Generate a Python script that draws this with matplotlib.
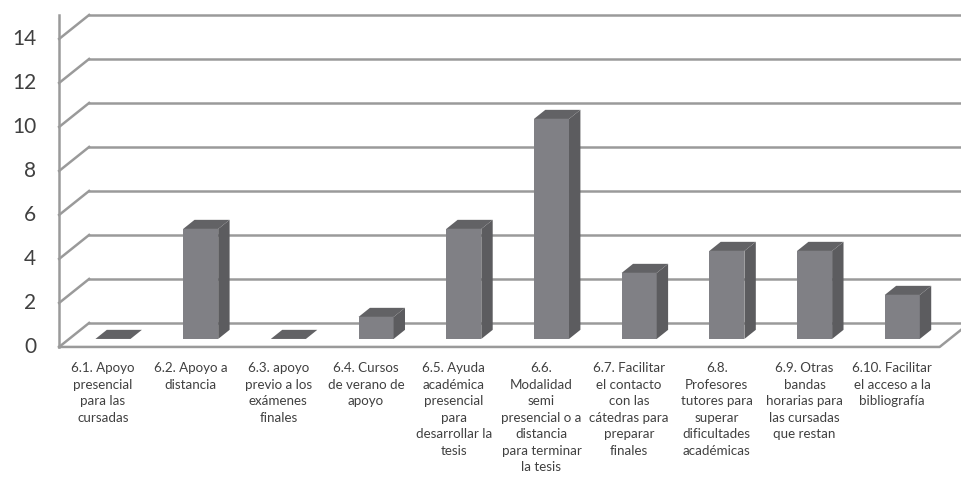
import numpy as np
import matplotlib.pyplot as plt
from matplotlib.patches import Polygon

categorias = [
    "6.1. Apoyo\npresencial\npara las\ncursadas",
    "6.2. Apoyo a\ndistancia",
    "6.3. apoyo\nprevio a los\nexámenes\nfinales",
    "6.4. Cursos\nde verano de\napoyo",
    "6.5. Ayuda\nacadémica\npresencial\npara\ndesarrollar la\ntesis",
    "6.6.\nModalidad\nsemi\npresencial o a\ndistancia\npara terminar\nla tesis",
    "6.7. Facilitar\nel contacto\ncon las\ncátedras para\npreparar\nfinales",
    "6.8.\nProfesores\ntutores para\nsuperar\ndificultades\nacadémicas",
    "6.9. Otras\nbandas\nhorarias para\nlas cursadas\nque restan",
    "6.10. Facilitar\nel acceso a la\nbibliografía",
]
valores = [0, 5, 0, 1, 5, 10, 3, 4, 4, 2]
yticks = [0, 2, 4, 6, 8, 10, 12, 14]

grid_col = '#9a9a9a'
front_col = '#808085'
side_col = '#5c5c5f'
top_col = '#626265'
text_col = '#404040'

# depth of the 3d box (in category / value units)
DX, DY = 0.342, 1.09
# bars: front plane at 1/3 of depth, bar depth ~0.38 of the box
bf = 1/3
bd = 0.38
bw = 0.4

fig = plt.figure(figsize=(9.62, 4.84), dpi=100)
ax = fig.add_axes([0, 0, 1, 1])
ax.set_xlim(-1.174, 9.795)
ax.set_ylim(-6.23, 15.77)
ax.axis('off')

n = len(valores)
x_left = -0.5
x_right = n - 0.46

# walls / gridlines
ax.plot([x_left, x_left], [0, 15.1], color=grid_col, lw=1.8, zorder=1)
for v in yticks:
    ax.plot([x_left, x_left + DX], [v, v + DY], color=grid_col, lw=1.8, zorder=1)
    ax.plot([x_left + DX, 11], [v + DY, v + DY], color=grid_col, lw=1.8, zorder=1)
    ax.text(-0.76, v, str(v), ha='right', va='center', fontsize=15,
            color=text_col, family='Lato')
# floor front edge
ax.plot([x_left, x_right, x_right + DX], [0, 0, DY], color=grid_col, lw=1.8, zorder=1)

# bars
for i, v in enumerate(valores):
    x0 = i + bf * DX - bw / 2
    x1 = x0 + bw
    y0 = bf * DY
    ddx, ddy = bd * DX, bd * DY
    top = [(x0, y0 + v), (x1, y0 + v), (x1 + ddx, y0 + v + ddy), (x0 + ddx, y0 + v + ddy)]
    if v > 0:
        ax.add_patch(Polygon([(x0, y0), (x1, y0), (x1, y0 + v), (x0, y0 + v)],
                             closed=True, fc=front_col, ec='none', zorder=3))
        ax.add_patch(Polygon([(x1, y0), (x1 + ddx, y0 + ddy), (x1 + ddx, y0 + v + ddy), (x1, y0 + v)],
                             closed=True, fc=side_col, ec='none', zorder=3))
    ax.add_patch(Polygon(top, closed=True, fc=top_col, ec='none', zorder=3))

# category labels
for i, c in enumerate(categorias):
    ax.text(i, -0.7, c, ha='center', va='top', fontsize=9.6, color=text_col,
            family='Lato', linespacing=1.45)

fig.savefig('out.png', dpi=100)
